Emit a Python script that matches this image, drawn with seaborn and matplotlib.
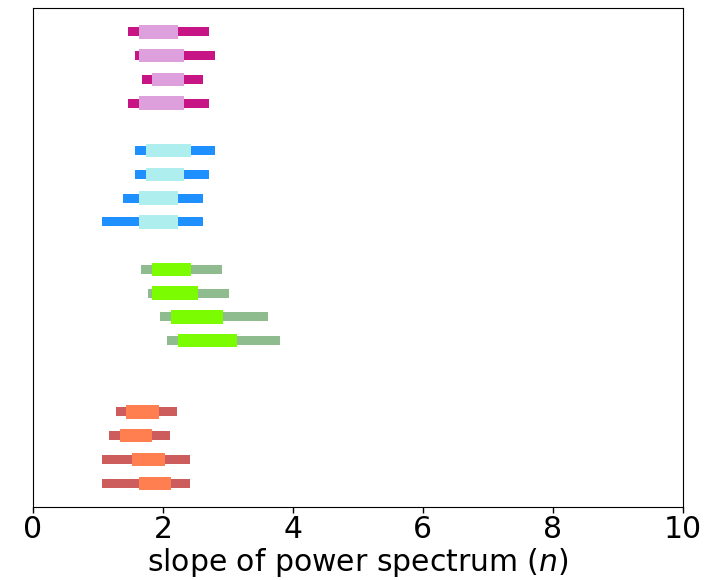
import matplotlib
matplotlib.use("Agg")
import matplotlib.pyplot as plt
import seaborn as sns
import numpy as np

sns.set_style("white")
plt.rcParams['font.family'] = ['DejaVu Sans']
plt.rcParams['text.color'] = 'black'
plt.rcParams['axes.labelcolor'] = 'black'
plt.rcParams['xtick.color'] = 'black'

# row positions (bottom = 0)
positions = [19, 18, 17, 16, 14, 13, 12, 11, 9, 8, 7, 6, 3, 2, 1, 0]
group = ["magenta"] * 4 + ["blue"] * 4 + ["green"] * 4 + ["orange"] * 4

outer_lo = [1.47, 1.57, 1.68, 1.47, 1.57, 1.57, 1.38, 1.07, 1.67, 1.77, 1.96, 2.07, 1.28, 1.17, 1.07, 1.07]
outer_hi = [2.71, 2.80, 2.62, 2.71, 2.80, 2.71, 2.62, 2.62, 2.91, 3.02, 3.62, 3.80, 2.21, 2.11, 2.42, 2.42]
inner_lo = [1.635, 1.635, 1.84, 1.635, 1.74, 1.74, 1.635, 1.635, 1.835, 1.835, 2.13, 2.23, 1.43, 1.34, 1.53, 1.63]
inner_hi = [2.23, 2.33, 2.33, 2.33, 2.44, 2.33, 2.23, 2.23, 2.435, 2.54, 2.93, 3.14, 1.94, 1.84, 2.04, 2.13]

outer_colors = {"magenta": "#C71585", "blue": "#1E90FF", "green": "#8FBC8F", "orange": "#CD5C5C"}
inner_colors = {"magenta": "#DDA0DD", "blue": "#AFEEEE", "green": "#7CFC00", "orange": "#FF7F50"}

fig = plt.figure(figsize=(7.15, 5.8), dpi=100)
ax = fig.add_axes([0.046, 0.126, 0.909, 0.86])

for y, g, lo, hi, ilo, ihi in zip(positions, group, outer_lo, outer_hi, inner_lo, inner_hi):
    ax.barh(y, hi - lo, left=lo, height=0.38, color=outer_colors[g], edgecolor="none")
    ax.barh(y, ihi - ilo, left=ilo, height=0.56, color=inner_colors[g], edgecolor="none")

ax.set_xlim(0, 10)
ax.set_ylim(-1, 20)
ax.set_yticks([])
ax.set_xticks([0, 2, 4, 6, 8, 10])
ax.tick_params(axis="x", labelsize=21.5, direction="out", length=4, width=1, bottom=True, pad=2)
ax.set_xlabel("slope of power spectrum ($n$)", fontsize=21.5, labelpad=1)
for s in ax.spines.values():
    s.set_visible(True)
    s.set_color("black")
    s.set_linewidth(0.8)

fig.savefig("out.png", dpi=100)
